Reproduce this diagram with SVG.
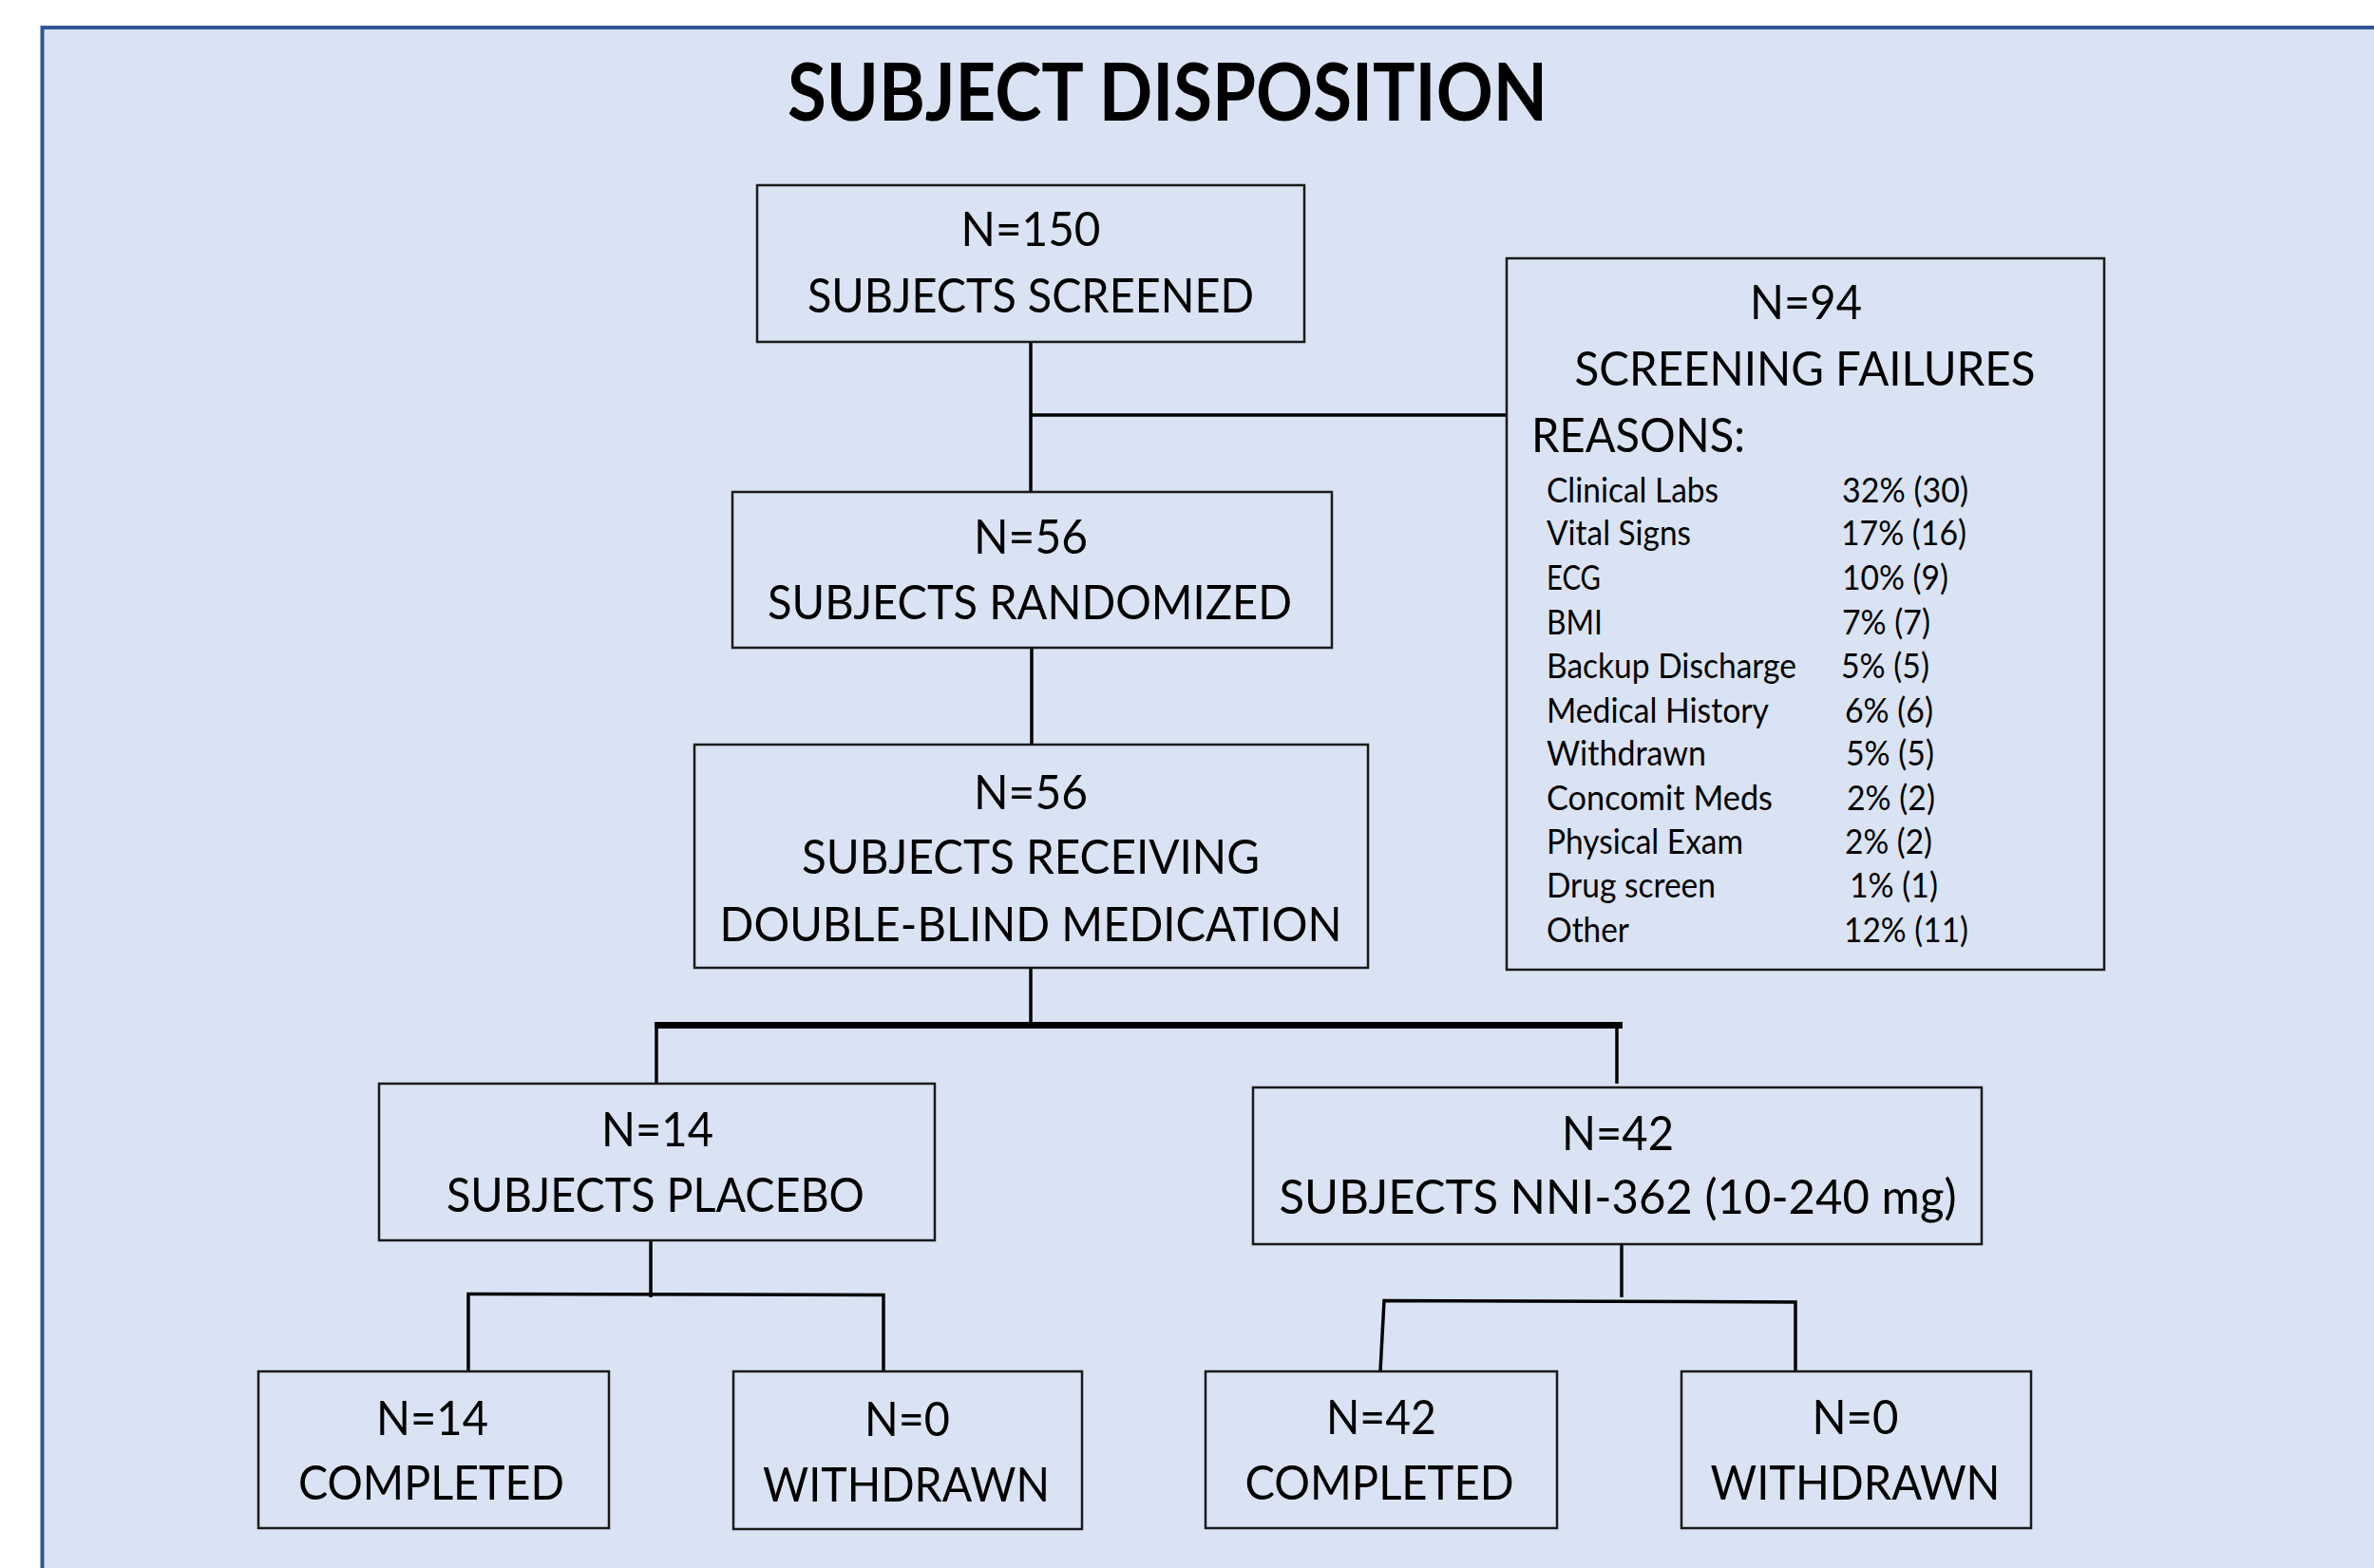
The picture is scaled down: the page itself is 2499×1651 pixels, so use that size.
<svg xmlns="http://www.w3.org/2000/svg" width="2499" height="1651" viewBox="0 0 2499 1651">
<style>
.box{fill:#dae3f3;stroke:#1a1a1a;stroke-width:2.5}
.t{font-family:Lato,"Liberation Sans",sans-serif;font-size:51px;fill:#000;text-anchor:middle}
.l{font-family:Lato,"Liberation Sans",sans-serif;font-size:37px;fill:#000}
.title{font-family:Lato,"Liberation Sans",sans-serif;font-weight:bold;font-size:84px;fill:#000;text-anchor:middle}
.c{stroke:#000;stroke-width:3.5;fill:none}
</style>
<rect x="0" y="0" width="2499" height="1651" fill="#ffffff"/>
<rect x="44.5" y="29" width="2520" height="1700" fill="#dae3f3" stroke="#2f5597" stroke-width="4"/>
<text class="title" x="1229" y="127" textLength="800" lengthAdjust="spacingAndGlyphs">SUBJECT DISPOSITION</text>

<g id="connectors">
<line class="c" x1="1085" y1="360" x2="1085" y2="518"/>
<line class="c" x1="1085" y1="437" x2="1586" y2="437"/>
<line class="c" x1="1086" y1="682" x2="1086" y2="784"/>
<line class="c" x1="1085" y1="1019" x2="1085" y2="1077"/>
<line stroke="#000" stroke-width="7" x1="689" y1="1079.5" x2="1708" y2="1079.5"/>
<line class="c" x1="691" y1="1079" x2="691" y2="1141"/>
<line class="c" x1="1702" y1="1080" x2="1702" y2="1141"/>
<line class="c" x1="685" y1="1306" x2="685" y2="1366"/>
<polyline class="c" points="493,1444 493,1362.5 930,1363.5 930,1444"/>
<line class="c" x1="1707" y1="1305" x2="1707" y2="1366"/>
<polyline class="c" points="1453,1444 1457,1369.5 1890,1371 1890,1444"/>
</g>

<g id="screened">
<rect class="box" x="797" y="195" width="576" height="165"/>
<text class="t" x="1085" y="259" textLength="147" lengthAdjust="spacingAndGlyphs">N=150</text>
<text class="t" x="1085" y="329" textLength="470" lengthAdjust="spacingAndGlyphs">SUBJECTS SCREENED</text>
</g>

<g id="randomized">
<rect class="box" x="771" y="518" width="631" height="164"/>
<text class="t" x="1085" y="583" textLength="120" lengthAdjust="spacingAndGlyphs">N=56</text>
<text class="t" x="1084" y="652" textLength="552" lengthAdjust="spacingAndGlyphs">SUBJECTS RANDOMIZED</text>
</g>

<g id="receiving">
<rect class="box" x="731" y="784" width="709" height="235"/>
<text class="t" x="1085" y="852" textLength="120" lengthAdjust="spacingAndGlyphs">N=56</text>
<text class="t" x="1085" y="920" textLength="482" lengthAdjust="spacingAndGlyphs">SUBJECTS RECEIVING</text>
<text class="t" x="1085" y="991" textLength="655" lengthAdjust="spacingAndGlyphs">DOUBLE-BLIND MEDICATION</text>
</g>

<g id="failures">
<rect class="box" x="1586" y="272" width="629" height="749"/>
<text class="t" x="1901" y="336" textLength="118" lengthAdjust="spacingAndGlyphs">N=94</text>
<text class="t" x="1900" y="406" textLength="485" lengthAdjust="spacingAndGlyphs">SCREENING FAILURES</text>
<text class="t" x="1612" y="476" style="text-anchor:start" textLength="225" lengthAdjust="spacingAndGlyphs">REASONS:</text>
<text class="l" x="1628" y="529" textLength="181" lengthAdjust="spacingAndGlyphs">Clinical Labs</text>
<text class="l" x="1939" y="529" textLength="133" lengthAdjust="spacingAndGlyphs">32% (30)</text>
<text class="l" x="1628" y="574" textLength="152" lengthAdjust="spacingAndGlyphs">Vital Signs</text>
<text class="l" x="1938" y="574" textLength="132" lengthAdjust="spacingAndGlyphs">17% (16)</text>
<text class="l" x="1628" y="621" textLength="57" lengthAdjust="spacingAndGlyphs">ECG</text>
<text class="l" x="1939" y="621" textLength="112" lengthAdjust="spacingAndGlyphs">10% (9)</text>
<text class="l" x="1628" y="668" textLength="59" lengthAdjust="spacingAndGlyphs">BMI</text>
<text class="l" x="1939" y="668" textLength="93" lengthAdjust="spacingAndGlyphs">7% (7)</text>
<text class="l" x="1628" y="714" textLength="263" lengthAdjust="spacingAndGlyphs">Backup Discharge</text>
<text class="l" x="1938" y="714" textLength="93" lengthAdjust="spacingAndGlyphs">5% (5)</text>
<text class="l" x="1628" y="761" textLength="234" lengthAdjust="spacingAndGlyphs">Medical History</text>
<text class="l" x="1942" y="761" textLength="93" lengthAdjust="spacingAndGlyphs">6% (6)</text>
<text class="l" x="1628" y="806" textLength="168" lengthAdjust="spacingAndGlyphs">Withdrawn</text>
<text class="l" x="1943" y="806" textLength="93" lengthAdjust="spacingAndGlyphs">5% (5)</text>
<text class="l" x="1628" y="853" textLength="238" lengthAdjust="spacingAndGlyphs">Concomit Meds</text>
<text class="l" x="1944" y="853" textLength="93" lengthAdjust="spacingAndGlyphs">2% (2)</text>
<text class="l" x="1628" y="899" textLength="207" lengthAdjust="spacingAndGlyphs">Physical Exam</text>
<text class="l" x="1942" y="899" textLength="92" lengthAdjust="spacingAndGlyphs">2% (2)</text>
<text class="l" x="1628" y="945" textLength="178" lengthAdjust="spacingAndGlyphs">Drug screen</text>
<text class="l" x="1947" y="945" textLength="93" lengthAdjust="spacingAndGlyphs">1% (1)</text>
<text class="l" x="1628" y="992" textLength="87" lengthAdjust="spacingAndGlyphs">Other</text>
<text class="l" x="1941" y="992" textLength="131" lengthAdjust="spacingAndGlyphs">12% (11)</text>
</g>

<g id="placebo">
<rect class="box" x="399" y="1141" width="585" height="165"/>
<text class="t" x="692" y="1207" textLength="118" lengthAdjust="spacingAndGlyphs">N=14</text>
<text class="t" x="690" y="1276" textLength="440" lengthAdjust="spacingAndGlyphs">SUBJECTS PLACEBO</text>
</g>

<g id="nni362">
<rect class="box" x="1319" y="1145" width="767" height="165"/>
<text class="t" x="1703" y="1211" textLength="118" lengthAdjust="spacingAndGlyphs">N=42</text>
<text class="t" x="1703" y="1278" textLength="713" lengthAdjust="spacingAndGlyphs">SUBJECTS NNI-362 (10-240 mg)</text>
</g>

<g id="placebo-completed">
<rect class="box" x="272" y="1444" width="369" height="165"/>
<text class="t" x="455" y="1511" textLength="118" lengthAdjust="spacingAndGlyphs">N=14</text>
<text class="t" x="454" y="1579" textLength="280" lengthAdjust="spacingAndGlyphs">COMPLETED</text>
</g>

<g id="placebo-withdrawn">
<rect class="box" x="772" y="1444" width="367" height="166"/>
<text class="t" x="955" y="1512" textLength="90" lengthAdjust="spacingAndGlyphs">N=0</text>
<text class="t" x="954" y="1581" textLength="302" lengthAdjust="spacingAndGlyphs">WITHDRAWN</text>
</g>

<g id="nni-completed">
<rect class="box" x="1269" y="1444" width="370" height="165"/>
<text class="t" x="1454" y="1510" textLength="116" lengthAdjust="spacingAndGlyphs">N=42</text>
<text class="t" x="1452" y="1579" textLength="283" lengthAdjust="spacingAndGlyphs">COMPLETED</text>
</g>

<g id="nni-withdrawn">
<rect class="box" x="1770" y="1444" width="368" height="165"/>
<text class="t" x="1953" y="1510" textLength="91" lengthAdjust="spacingAndGlyphs">N=0</text>
<text class="t" x="1953" y="1579" textLength="305" lengthAdjust="spacingAndGlyphs">WITHDRAWN</text>
</g>
</svg>
